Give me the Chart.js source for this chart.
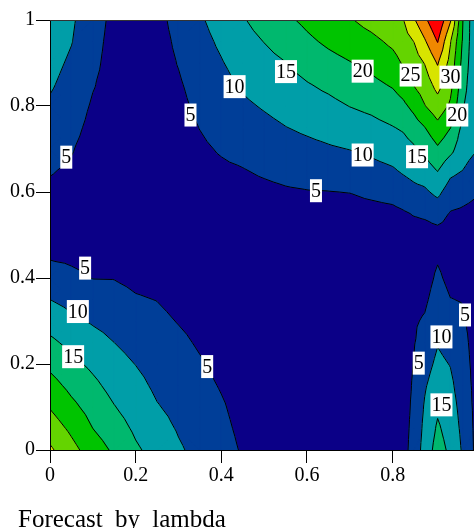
<!DOCTYPE html>
<html>
<head>
<meta charset="utf-8">
<script src="https://cdn.jsdelivr.net/npm/chart.js@4/dist/chart.umd.min.js"></script>
<style>
  body { margin: 0; background: #fff; overflow: hidden; }
  #wrap { position: relative; width: 474px; height: 528px; }
  #title {
    position: absolute; left: 18px; top: 506px;
    font: 25px "Liberation Serif", serif; line-height: 25px;
    word-spacing: 6px; color: #000; white-space: nowrap;
  }
</style>
</head>
<body>
<div id="wrap">
  <canvas id="chart" width="474" height="528"></canvas>
  <div id="title">Forecast by lambda</div>
</div>
<script>
// lambda values (x) and y values of the grid
const gridX = [0, 0.05, 0.1, 0.15, 0.2, 0.25, 0.3, 0.35, 0.4, 0.45, 0.5, 0.55, 0.6, 0.65,
  0.7, 0.75, 0.8, 0.825, 0.85, 0.875, 0.905, 0.935, 0.965, 0.99];
const gridY = [0, 0.05, 0.1, 0.15, 0.2, 0.25, 0.3, 0.35, 0.4, 0.45, 0.5, 0.55, 0.6, 0.65,
  0.7, 0.75, 0.8, 0.85, 0.9, 0.95, 1];

// one line per x value, going up in y
const zCols = [
  [30.8, 27.7, 24.7, 21.8, 18.9, 16, 13, 10, 7.1, 4.6, 3.5, 3.6, 4.2, 5.3, 6.6, 8, 9.3, 10.6, 11.6, 12.6, 13.5],
  [26.6, 24, 21.2, 18.7, 16.2, 13.7, 11, 8.5, 6, 4.2, 2.8, 3, 3.6, 4.4, 5.3, 6.3, 7.3, 8.2, 9.2, 10.2, 10.7],
  [22.5, 20, 18.1, 16.1, 14, 11.8, 9.5, 7.4, 4.9, 3.5, 2.5, 2.5, 2.5, 2.8, 3.2, 3.8, 4.5, 5.3, 6, 6.5, 7],
  [19.2, 17.2, 15.2, 13.4, 11.7, 10, 8.3, 6.6, 4.85, 3.2, 2.3, 2.3, 2.3, 2.4, 2.5, 2.7, 2.9, 3.1, 3.3, 3.5, 3.8],
  [15.7, 14.2, 12.8, 11.4, 9.9, 8.4, 6.9, 5.4, 4, 2.8, 2.3, 2.3, 2.3, 2.3, 2.4, 2.5, 2.6, 2.7, 2.8, 2.9, 3],
  [13.3, 11.8, 10.3, 9.1, 8.1, 7, 6, 4.9, 3.6, 2.6, 2.3, 2.3, 2.3, 2.3, 2.4, 2.5, 2.7, 2.9, 3.1, 3.4, 3.7],
  [10.6, 9.6, 8.7, 7.7, 6.8, 5.9, 4.8, 3.8, 2.9, 2.4, 2.3, 2.4, 2.5, 2.7, 3, 3.4, 3.9, 4.5, 5.2, 5.8, 6.5],
  [8.6, 7.8, 7, 6.2, 5.4, 4.5, 3.7, 3, 2.6, 2.3, 2.5, 2.7, 3, 3.6, 4.3, 5.1, 6, 6.8, 7.7, 8.5, 9.4],
  [6.6, 6, 5.45, 4.7, 3.9, 3.3, 2.9, 2.6, 2.4, 2.3, 2.5, 2.8, 3.4, 4.3, 5.4, 6.5, 7.5, 8.6, 9.7, 10.8, 12],
  [4.6, 4.1, 3.6, 3.2, 2.9, 2.7, 2.5, 2.4, 2.3, 2.3, 2.5, 2.8, 3.5, 4.8, 6.3, 7.7, 9.2, 10.6, 11.9, 13.3, 14.6],
  [3.8, 3.4, 3.1, 2.8, 2.6, 2.5, 2.4, 2.3, 2.3, 2.3, 2.5, 3, 4, 5.6, 7.2, 8.8, 10.4, 12, 13.5, 15.1, 16.9],
  [3, 2.8, 2.6, 2.5, 2.4, 2.3, 2.3, 2.3, 2.3, 2.3, 2.5, 3.2, 4.5, 6.3, 8.1, 9.9, 11.6, 13.2, 14.9, 17, 19.1],
  [2.5, 2.4, 2.4, 2.3, 2.3, 2.3, 2.3, 2.3, 2.3, 2.3, 2.5, 3.3, 4.8, 6.8, 8.8, 10.8, 12.8, 14.7, 16.9, 19.1, 21],
  [2.3, 2.3, 2.3, 2.3, 2.3, 2.3, 2.3, 2.3, 2.3, 2.3, 2.5, 3.2, 4.9, 7.2, 9.5, 11.7, 13.75, 16, 18.5, 20.8, 22.8],
  [2.3, 2.3, 2.3, 2.3, 2.3, 2.3, 2.3, 2.3, 2.3, 2.3, 2.5, 3.2, 5.1, 7.6, 10.1, 12.6, 15.1, 17.5, 19.8, 22.2, 24.6],
  [2.3, 2.3, 2.3, 2.3, 2.3, 2.3, 2.3, 2.3, 2.3, 2.3, 2.6, 3.5, 5.9, 8.5, 11, 13.5, 16.1, 18.8, 21.3, 23.7, 26.7],
  [2.2, 2.2, 2.2, 2.2, 2.2, 2.2, 2.2, 2.2, 2.2, 2.3, 2.8, 3.8, 6.7, 9.5, 12.2, 14.8, 17.7, 20.5, 23.2, 26, 28.9],
  [3.6, 3.4, 3.2, 3.1, 3, 2.9, 2.8, 2.6, 2.5, 2.4, 2.8, 4.5, 7.65, 10.6, 13.05, 15.6, 19, 22.35, 25.5, 27.8, 29.9],
  [6.8, 6.4, 6, 5.6, 5.2, 4.8, 4.5, 3.5, 2.8, 2.6, 3, 5.3, 8.7, 11.6, 14.3, 17.7, 21.4, 25.3, 27.7, 30.1, 34.5],
  [12.1, 11.3, 10.5, 9.5, 8.1, 6.8, 5.5, 4.2, 3.2, 2.7, 3.2, 5.7, 9.2, 12.6, 16.2, 19.9, 24.8, 27.5, 30.2, 34.4, 38.9],
  [17, 15.7, 14.2, 12.7, 11.1, 9.7, 8.4, 7.1, 5.8, 4.5, 3.5, 6.8, 11.2, 15.2, 19.3, 23.5, 27.9, 31.7, 35.4, 40.2, 44.5],
  [14, 13, 12.1, 11, 9.8, 8.3, 6.6, 5.1, 3.8, 3, 3.2, 4.7, 7.6, 11.3, 16.5, 20.1, 24.2, 26.5, 28.3, 30.3, 35.5],
  [9.2, 8.6, 8, 7.3, 6.7, 6.1, 5.4, 4.8, 4, 3.3, 3.4, 4.2, 6.6, 9.9, 11.7, 13.5, 15.3, 16.8, 18, 19, 19.6],
  [4.8, 4.6, 4.4, 4.2, 4, 3.8, 3.6, 3.4, 3.2, 3, 3.2, 3.8, 5.6, 8.4, 10.5, 11, 11.3, 11.6, 11.8, 12, 12],
];

const levels = [5, 10, 15, 20, 25, 30, 35, 40];
const bandColors = ["#0b0087", "#003e98", "#009ea8", "#00b86e", "#00c400",
  "#64d400", "#d8e400", "#f08800", "#ff0000"];

const xTicks = [0, 0.2, 0.4, 0.6, 0.8];
const yTicks = [0, 0.2, 0.4, 0.6, 0.8, 1];

// contour labels: [x, y, text]
const contourLabels = [
  [0.038, 0.681, "5"], [0.328, 0.779, "5"], [0.431, 0.845, "10"], [0.551, 0.88, "15"],
  [0.73, 0.881, "20"], [0.842, 0.872, "25"], [0.935, 0.867, "30"], [0.951, 0.779, "20"],
  [0.73, 0.686, "10"], [0.857, 0.682, "15"], [0.621, 0.603, "5"],
  [0.082, 0.423, "5"], [0.065, 0.322, "10"], [0.054, 0.217, "15"], [0.367, 0.194, "5"],
  [0.914, 0.263, "10"], [0.861, 0.202, "5"], [0.969, 0.314, "5"], [0.914, 0.105, "15"],
];

const FONT = "'Liberation Serif', 'Times New Roman', serif";

function clipAbove(poly, lv) {
  const out = [];
  for (let i = 0; i < poly.length; i++) {
    const a = poly[i], b = poly[(i + 1) % poly.length];
    const ain = a.z >= lv, bin = b.z >= lv;
    if (ain) out.push(a);
    if (ain !== bin) {
      const t = (lv - a.z) / (b.z - a.z);
      out.push({ x: a.x + t * (b.x - a.x), y: a.y + t * (b.y - a.y), z: lv });
    }
  }
  return out;
}

function buildTriangles(xs, ys) {
  const tris = [];
  for (let i = 0; i < gridX.length - 1; i++) {
    for (let j = 0; j < gridY.length - 1; j++) {
      const p = (a, b) => ({ x: xs.getPixelForValue(gridX[a]), y: ys.getPixelForValue(gridY[b]), z: zCols[a][b] });
      const p00 = p(i, j), p10 = p(i + 1, j), p11 = p(i + 1, j + 1), p01 = p(i, j + 1);
      const pc = {
        x: (p00.x + p10.x + p11.x + p01.x) / 4,
        y: (p00.y + p10.y + p11.y + p01.y) / 4,
        z: (p00.z + p10.z + p11.z + p01.z) / 4,
      };
      tris.push([p00, p10, pc], [p10, p11, pc], [p11, p01, pc], [p01, p00, pc]);
    }
  }
  return tris;
}

const contourPlugin = {
  id: "contour",
  beforeDraw(chart) {
    const { ctx, chartArea: area } = chart;
    const tris = buildTriangles(chart.scales.x, chart.scales.y);
    ctx.save();
    ctx.beginPath();
    ctx.rect(area.left, area.top, area.right - area.left, area.bottom - area.top);
    ctx.clip();
    ctx.fillStyle = bandColors[0];
    ctx.fillRect(area.left, area.top, area.right - area.left, area.bottom - area.top);

    // filled bands, lowest first
    levels.forEach((lv, k) => {
      ctx.beginPath();
      tris.forEach(tri => {
        const poly = clipAbove(tri, lv);
        if (poly.length < 3) return;
        ctx.moveTo(poly[0].x, poly[0].y);
        for (let n = 1; n < poly.length; n++) ctx.lineTo(poly[n].x, poly[n].y);
        ctx.closePath();
      });
      ctx.fillStyle = bandColors[k + 1];
      ctx.strokeStyle = bandColors[k + 1];
      ctx.lineWidth = 1;
      ctx.lineJoin = "round";
      ctx.fill();
      ctx.stroke();
    });

    // contour lines
    ctx.beginPath();
    levels.forEach(lv => {
      tris.forEach(tri => {
        const pts = [];
        for (let n = 0; n < 3; n++) {
          const a = tri[n], b = tri[(n + 1) % 3];
          if ((a.z >= lv) !== (b.z >= lv)) {
            const t = (lv - a.z) / (b.z - a.z);
            pts.push([a.x + t * (b.x - a.x), a.y + t * (b.y - a.y)]);
          }
        }
        if (pts.length === 2) {
          ctx.moveTo(pts[0][0], pts[0][1]);
          ctx.lineTo(pts[1][0], pts[1][1]);
        }
      });
    });
    ctx.strokeStyle = "#000";
    ctx.lineWidth = 1;
    ctx.stroke();
    ctx.restore();
  },
  afterDraw(chart) {
    const { ctx, chartArea: area } = chart;
    const xs = chart.scales.x, ys = chart.scales.y;
    ctx.save();
    // top frame line
    ctx.strokeStyle = "#333";
    ctx.lineWidth = 1;
    ctx.beginPath();
    ctx.moveTo(area.left, Math.round(area.top) + 0.5);
    ctx.lineTo(area.right, Math.round(area.top) + 0.5);
    ctx.stroke();

    ctx.font = "20px " + FONT;
    ctx.textAlign = "center";
    ctx.textBaseline = "middle";
    contourLabels.forEach(([x, y, text]) => {
      const px = xs.getPixelForValue(x), py = ys.getPixelForValue(y);
      const w = ctx.measureText(text).width + 2;
      ctx.fillStyle = "#fff";
      ctx.fillRect(px - w / 2, py - 11.5, w, 23);
      ctx.fillStyle = "#000";
      ctx.fillText(text, px, py + 1);
    });
    ctx.restore();
  },
};

const chart = new Chart(document.getElementById("chart"), {
  type: "scatter",
  data: { datasets: [{ data: [], pointRadius: 0 }] },
  options: {
    responsive: false,
    animation: false,
    events: [],
    layout: { padding: { top: 20, right: 0, left: 0, bottom: 0 } },
    plugins: { legend: { display: false }, tooltip: { enabled: false } },
    scales: {
      x: {
        type: "linear",
        min: 0,
        max: 0.99,
        afterBuildTicks: s => { s.ticks = xTicks.map(v => ({ value: v })); },
        afterFit: s => { s.height = 78; },
        grid: { drawOnChartArea: false, drawTicks: true, tickLength: 13, color: "#000" },
        border: { display: true, color: "#000" },
        ticks: { color: "#000", padding: 1, font: { family: FONT, size: 20 }, callback: v => String(v), maxRotation: 0 },
      },
      y: {
        type: "linear",
        min: 0,
        max: 1,
        afterBuildTicks: s => { s.ticks = yTicks.map(v => ({ value: v })); },
        afterFit: s => { s.width = 50; },
        grid: { drawOnChartArea: false, drawTicks: true, tickLength: 14, color: "#000" },
        border: { display: true, color: "#000" },
        ticks: { color: "#000", padding: 1, font: { family: FONT, size: 20 }, callback: v => String(v) },
      },
    },
  },
  plugins: [contourPlugin],
});
</script>
</body>
</html>
